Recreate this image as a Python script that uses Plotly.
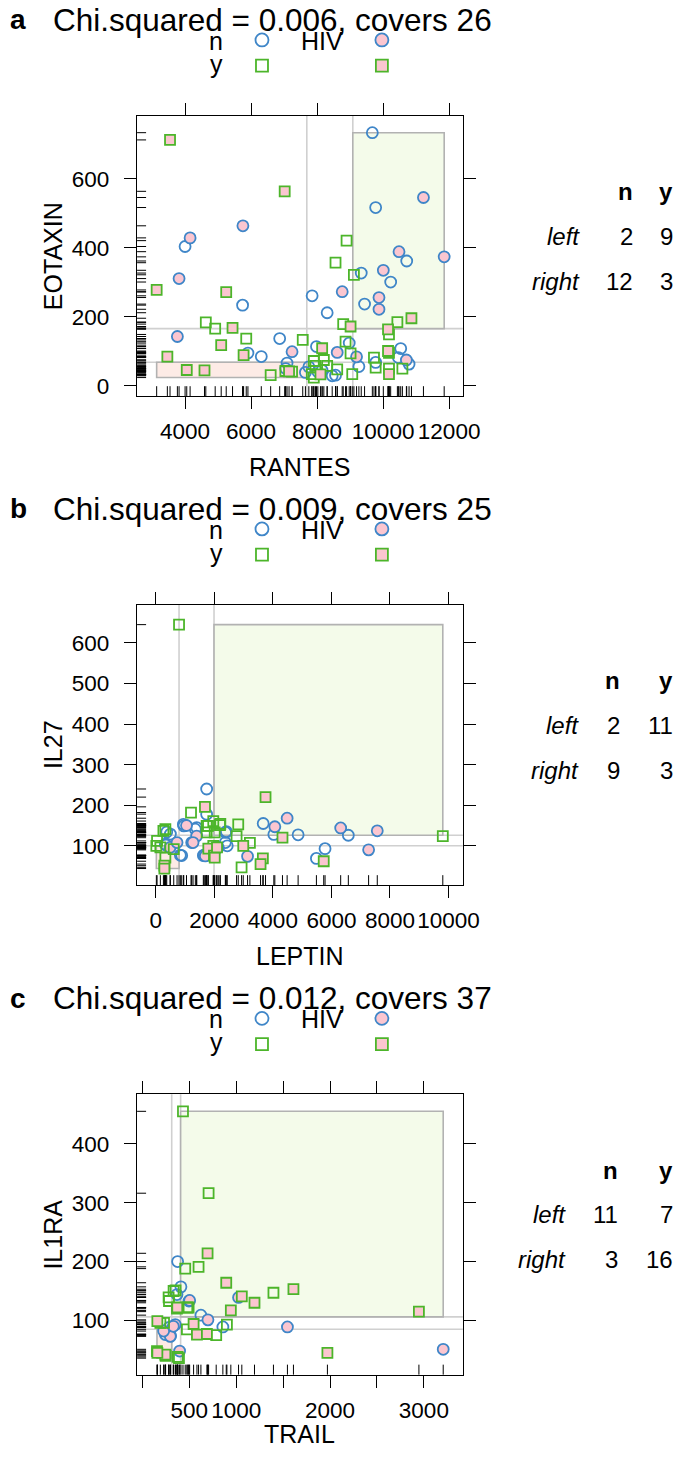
import plotly.graph_objects as go

# The page body keeps its default 8px margin, and the snapshot comes out about 2.4% narrower
# than the page is laid out, so page positions are stretched by 1/SQUEEZE before use.
PAGE_PAD = 8
SQUEEZE = 0.976
W, H = round(685 / SQUEEZE) - 2 * PAGE_PAD, 1457 - 2 * PAGE_PAD
FONT = "Liberation Sans, Arial, Helvetica, sans-serif"
BLUE = "#3f86c8"
GREEN = "#4cb52a"
PINK = "#fbc6d0"
CUT_LINE = "#d0d0d0"
BOX_LINE = "#b2b2b2"

# ---- panel a: RANTES vs EOTAXIN ----
A_TITLE = "Chi.squared = 0.006, covers 26"
A_XLAB, A_YLAB = "RANTES", "EOTAXIN"
A_OPEN_CIRCLE_X = [9673, 9774, 5742, 4000, 7849, 8305, 9337, 9438, 10229, 10715, 6866, 5904, 6309, 7089,
                   7981, 8973, 9266, 10533, 10786, 7646, 8558, 8457, 8022, 9774, 10462, 7050, 7750, 8150]
A_OPEN_CIRCLE_Y = [734, 517, 234, 404, 261, 212, 327, 237, 301, 362, 137, 95, 85, 66,
                   114, 124, 56, 108, 63, 39, 31, 29, 41, 68, 82, 50, 55, 45]
A_PINK_CIRCLE_X = [5752, 4152, 3818, 3767, 7241, 8609, 8761, 10482, 10006, 9875, 9875, 11222, 11850, 9195, 10705]
A_PINK_CIRCLE_Y = [464, 429, 311, 143, 99, 97, 273, 389, 335, 256, 222, 546, 374, 84, 75]
A_OPEN_SQUARE_X = [8893, 8558, 9115, 4628, 4912, 5853, 7565, 8791, 8862, 9014, 10178, 10432, 6593, 7039,
                   7241, 7900, 7900, 8609, 9065, 9774, 10178, 10584, 9723, 10178, 7950, 8305, 8204, 7839]
A_OPEN_SQUARE_Y = [421, 357, 322, 184, 166, 137, 133, 179, 128, 94, 149, 185, 31, 43,
                   41, 72, 24, 48, 34, 53, 50, 50, 82, 96, 58, 58, 75, 34]
A_PINK_SQUARE_X = [3544, 7018, 3139, 5246, 5438, 5094, 3463, 5773, 4051, 4588, 8153, 8102, 10149, 10858,
                   9014, 10149, 10178, 7150]
A_PINK_SQUARE_Y = [713, 564, 278, 272, 168, 118, 85, 89, 46, 45, 109, 33, 164, 196,
                   172, 101, 34, 42]
A_XCUTS, A_YCUTS = [7688, 9082], [68.6, 166]
A_TABLE = [[2, 9], [12, 3]]

# ---- panel b: LEPTIN vs IL27 ----
B_TITLE = "Chi.squared = 0.009, covers 25"
B_XLAB, B_YLAB = "LEPTIN", "IL27"
B_OPEN_CIRCLE_X = [1738, 1738, 3669, 4862, 4033, 6577, 5782, 5487, 2442, 2385, 943, 1397, 886, 1624,
                   352, 375, 2136, 956, 1352, 2410, 2376, 499, 328, 840]
B_OPEN_CIRCLE_Y = [240, 178, 155, 127, 128, 126, 93, 69, 100, 133, 153, 145, 76, 76,
                   102, 134, 96, 149, 141, 135, 108, 129, 104, 77]
B_PINK_CIRCLE_X = [4487, 4067, 6316, 7566, 7270, 3135, 1227, 1397, 1050, 1647, 2079, 488, 1273, 727, 1693]
B_PINK_CIRCLE_Y = [168, 147, 144, 137, 90, 74, 108, 124, 150, 77, 98, 96, 108, 108, 75]
B_OPEN_SQUARE_X = [795, 1204, 2817, 2193, 1965, 2760, 3215, 2931, 9804, 261, 1738, 1738, 1965, 328,
                   1785, 2205, 2014, 44, 20, 614, 157, 328]
B_OPEN_SQUARE_Y = [645, 182, 153, 151, 161, 124, 107, 47, 124, 137, 149, 133, 100, 141,
                   149, 154, 133, 112, 100, 92, 96, 71]
B_PINK_SQUARE_X = [3749, 1681, 4328, 3658, 3579, 5737, 2988, 1795, 1988, 295, 2014, 2092, 294]
B_PINK_SQUARE_Y = [220, 196, 120, 69, 55, 62, 100, 93, 76, 51, 71, 96, 44]
B_XCUTS, B_YCUTS = [795, 1990], [100, 126]
B_TABLE = [[2, 11], [9, 3]]

# ---- panel c: TRAIL vs IL1RA ----
C_TITLE = "Chi.squared = 0.012, covers 37"
C_XLAB, C_YLAB = "TRAIL", "IL1RA"
C_OPEN_CIRCLE_X = [376, 411, 624, 858, 245, 369, 497, 284, 301]
C_OPEN_CIRCLE_Y = [200, 157, 109, 89, 76, 144, 133, 88, 74]
C_PINK_CIRCLE_X = [504, 699, 1025, 1546, 3206, 397, 351, 298, 227, 330]
C_PINK_CIRCLE_Y = [134, 101, 139, 89, 51, 48, 93, 73, 82, 90]
C_OPEN_SQUARE_X = [433, 706, 457, 599, 1397, 787, 901, 376, 156, 280, 333, 493, 192, 475,
                   354, 284, 479, 231, 248, 390]
C_OPEN_SQUARE_Y = [455, 316, 188, 191, 147, 75, 93, 38, 48, 139, 150, 122, 96, 85,
                   151, 133, 122, 96, 40, 36]
C_PINK_SQUARE_X = [695, 894, 1610, 1060, 1195, 943, 2947, 1972, 546, 582, 688, 369, 245, 160, 372, 160]
C_PINK_SQUARE_Y = [214, 164, 153, 141, 130, 117, 115, 45, 94, 76, 77, 120, 42, 45, 122, 99]
C_XCUTS, C_YCUTS = [313, 408], [85, 106]
C_TABLE = [[11, 7], [3, 16]]

TABLE_COLS = ["n", "y"]
TABLE_ROWS = ["left", "right"]

panels = [
    dict(title=A_TITLE, letter="a", xlab=A_XLAB, ylab=A_YLAB,
         groups=[(A_OPEN_CIRCLE_X, A_OPEN_CIRCLE_Y), (A_PINK_CIRCLE_X, A_PINK_CIRCLE_Y),
                 (A_OPEN_SQUARE_X, A_OPEN_SQUARE_Y), (A_PINK_SQUARE_X, A_PINK_SQUARE_Y)],
         xcuts=A_XCUTS, ycuts=A_YCUTS, table=A_TABLE,
         xrange=[2546, 12415], yrange=[-30, 783],
         xticks=[4000, 6000, 8000, 10000, 12000], xtext=None, yticks=[0, 200, 400, 600],
         tcols=[582, 635, 675]),
    dict(title=B_TITLE, letter="b", xlab=B_XLAB, ylab=B_YLAB,
         groups=[(B_OPEN_CIRCLE_X, B_OPEN_CIRCLE_Y), (B_PINK_CIRCLE_X, B_PINK_CIRCLE_Y),
                 (B_OPEN_SQUARE_X, B_OPEN_SQUARE_Y), (B_PINK_SQUARE_X, B_PINK_SQUARE_Y)],
         xcuts=B_XCUTS, ycuts=B_YCUTS, table=B_TABLE,
         xrange=[-638, 10488], yrange=[3, 694],
         xticks=[0, 2000, 4000, 6000, 8000, 10000], xtext=None, yticks=[100, 200, 300, 400, 500, 600],
         tcols=[581, 622, 675]),
    dict(title=C_TITLE, letter="c", xlab=C_XLAB, ylab=C_YLAB,
         groups=[(C_OPEN_CIRCLE_X, C_OPEN_CIRCLE_Y), (C_PINK_CIRCLE_X, C_PINK_CIRCLE_Y),
                 (C_OPEN_SQUARE_X, C_OPEN_SQUARE_Y), (C_PINK_SQUARE_X, C_PINK_SQUARE_Y)],
         xcuts=C_XCUTS, ycuts=C_YCUTS, table=C_TABLE,
         xrange=[-56, 3415], yrange=[8, 484],
         xticks=[0, 500, 1000, 1500, 2000, 2500, 3000],
         xtext=["", "500", "1000", "", "2000", "", "3000"], yticks=[100, 200, 300, 400],
         tcols=[568, 620, 675]),
]

MARKERS = [
    dict(symbol="circle-open", color=BLUE, size=11, line=dict(width=1.8, color=BLUE)),
    dict(symbol="circle", color=PINK, size=11, line=dict(width=1.8, color=BLUE)),
    dict(symbol="square-open", color=GREEN, size=10, line=dict(width=1.8, color=GREEN)),
    dict(symbol="square", color=PINK, size=10, line=dict(width=1.8, color=GREEN)),
]


# page pixel (as seen in the snapshot) -> paper fraction
def fx(px):
    return (px / SQUEEZE - PAGE_PAD) / W


def fy(py):
    return 1 - (py - PAGE_PAD) / H


fig = go.Figure()
shapes, annotations = [], []
OFFSETS = [0, 490, 980.5]
PLOT_L, PLOT_R, PLOT_T, PLOT_B = 137, 463, 116, 397

for i, p in enumerate(panels):
    dy = OFFSETS[i]
    sfx = "" if i == 0 else str(i + 1)
    xr, yr = "x" + sfx, "y" + sfx

    axis_common = dict(showline=True, linecolor="black", linewidth=1.4, mirror="ticks",
                       ticks="outside", ticklen=12, tickwidth=1.4, tickcolor="black",
                       showgrid=False, zeroline=False, tickangle=0,
                       tickfont=dict(size=22.5, color="black", family=FONT))
    fig.update_layout({
        "xaxis" + sfx: dict(axis_common, domain=[fx(PLOT_L), fx(PLOT_R)], range=p["xrange"],
                            anchor=yr, tickvals=p["xticks"], ticklabelstandoff=3,
                            ticktext=p["xtext"] if p["xtext"] else [str(v) for v in p["xticks"]]),
        "yaxis" + sfx: dict(axis_common, domain=[fy(PLOT_B + dy), fy(PLOT_T + dy)], range=p["yrange"],
                            anchor=xr, tickvals=p["yticks"], ticklabelstandoff=10),
    })

    all_x = [v for gx, _ in p["groups"] for v in gx]
    all_y = [v for _, gy in p["groups"] for v in gy]

    # rule boxes
    shapes.append(dict(type="rect", xref=xr, yref=yr, layer="below",
                       x0=p["xcuts"][1], x1=max(all_x), y0=p["ycuts"][1], y1=max(all_y),
                       fillcolor="#f4fbea", line=dict(color=BOX_LINE, width=1.6)))
    shapes.append(dict(type="rect", xref=xr, yref=yr, layer="below",
                       x0=min(all_x), x1=p["xcuts"][0], y0=min(all_y), y1=p["ycuts"][0],
                       fillcolor="#fdebe6", line=dict(color=BOX_LINE, width=1.6)))
    for c in p["xcuts"]:
        shapes.append(dict(type="line", xref=xr, yref=yr + " domain", x0=c, x1=c, y0=0, y1=1,
                           layer="below", line=dict(color=CUT_LINE, width=1.6)))
    for c in p["ycuts"]:
        shapes.append(dict(type="line", xref=xr + " domain", yref=yr, x0=0, x1=1, y0=c, y1=c,
                           layer="below", line=dict(color=CUT_LINE, width=1.6)))

    # rugs
    for v in all_x:
        shapes.append(dict(type="line", xref=xr, yref=yr + " domain", ysizemode="pixel", yanchor=0,
                           x0=v, x1=v, y0=0, y1=10, line=dict(color="black", width=1)))
    for v in all_y:
        shapes.append(dict(type="line", xref=xr + " domain", yref=yr, xsizemode="pixel", xanchor=0,
                           x0=0, x1=9, y0=v, y1=v, line=dict(color="black", width=1)))

    for (gx, gy), m in zip(p["groups"], MARKERS):
        fig.add_trace(go.Scatter(x=gx, y=gy, mode="markers", marker=m, xaxis=xr, yaxis=yr,
                                 showlegend=False, hoverinfo="skip"))

    # titles
    annotations.append(dict(text="<b>" + p["letter"] + "</b>", x=fx(PAGE_PAD * SQUEEZE), y=fy(20 + dy),
                            xanchor="left", font=dict(size=28)))
    annotations.append(dict(text=p["title"], x=fx(51), y=fy(20 + dy), xanchor="left", font=dict(size=31.5)))

    # key
    annotations.append(dict(text="n", x=fx(216), y=fy(41 + dy), font=dict(size=25)))
    annotations.append(dict(text="y", x=fx(216), y=fy(64 + dy), font=dict(size=25)))
    annotations.append(dict(text="HIV", x=fx(322.5), y=fy(41 + dy), font=dict(size=25)))
    key = [("circle", 262, 40, "rgba(0,0,0,0)", BLUE), ("circle", 382, 40, PINK, BLUE),
           ("rect", 262, 65.7, "rgba(0,0,0,0)", GREEN), ("rect", 382, 65.7, PINK, GREEN)]
    for kind, kx, ky, fill, edge in key:
        half = 6.5 if kind == "circle" else 6
        shapes.append(dict(type=kind, xref="paper", yref="paper", xsizemode="pixel", ysizemode="pixel",
                           xanchor=fx(kx), yanchor=fy(ky + dy), x0=-half, x1=half, y0=-half, y1=half,
                           fillcolor=fill, line=dict(color=edge, width=1.8)))

    # axis labels
    annotations.append(dict(text=p["xlab"], x=fx(300), y=fy(min(468 + dy, 1437)), font=dict(size=25)))
    annotations.append(dict(text=p["ylab"], x=fx(53), y=fy(256.5 + dy), textangle=-90, font=dict(size=25)))

    # count table
    lx, c1, c2 = p["tcols"]
    annotations.append(dict(text="<b>" + TABLE_COLS[0] + "</b>", x=fx(c1), y=fy(192 + dy), xanchor="right",
                            font=dict(size=24)))
    annotations.append(dict(text="<b>" + TABLE_COLS[1] + "</b>", x=fx(c2), y=fy(192 + dy), xanchor="right",
                            font=dict(size=24)))
    for r, row_name in enumerate(TABLE_ROWS):
        ry = fy(237 + 45 * r + dy)
        annotations.append(dict(text="<i>" + row_name + "</i>", x=fx(lx), y=ry, xanchor="right",
                                font=dict(size=24)))
        annotations.append(dict(text=str(p["table"][r][0]), x=fx(c1), y=ry, xanchor="right", font=dict(size=24)))
        annotations.append(dict(text=str(p["table"][r][1]), x=fx(c2), y=ry, xanchor="right", font=dict(size=24)))

for a in annotations:
    a.setdefault("xref", "paper")
    a.setdefault("yref", "paper")
    a.setdefault("showarrow", False)
    a.setdefault("xanchor", "center")
    a.setdefault("yanchor", "middle")
    a["font"] = dict(a["font"], family=FONT, color="black")

fig.update_layout(
    width=W, height=H,
    margin=dict(l=0, r=0, t=0, b=0),
    paper_bgcolor="white", plot_bgcolor="white",
    font=dict(family=FONT, color="black"),
    shapes=shapes, annotations=annotations,
)

fig.write_html("out.html", config={"displayModeBar": False})
